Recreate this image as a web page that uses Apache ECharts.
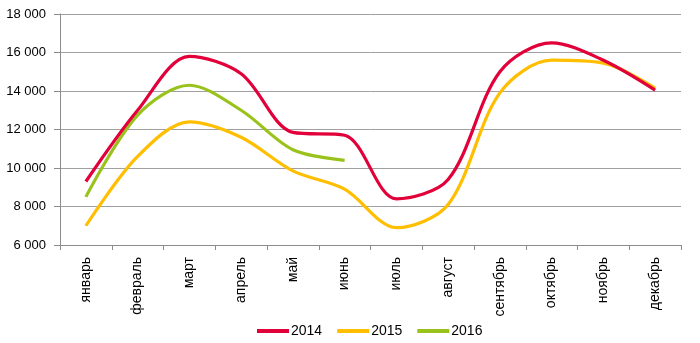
<!DOCTYPE html>
<html>
<head>
<meta charset="utf-8">
<script src="https://cdn.jsdelivr.net/npm/echarts@6/dist/echarts.min.js"></script>
<style>html,body{margin:0;padding:0;background:#fff}#c{width:700px;height:343px}</style>
</head>
<body>
<div id="c"></div>
<script>
var categories = ['январь','февраль','март','апрель','май','июнь','июль','август','сентябрь','октябрь','ноябрь','декабрь'];
var s2014 = [9300, 13000, 15800, 14900, 11850, 11700, 8400, 9400, 15000, 16500, 15600, 14050];
var s2015 = [7000, 10600, 12400, 11600, 9850, 8900, 6900, 8100, 13900, 15600, 15450, 14150];
var s2016 = [8500, 12750, 14300, 13000, 10950, 10400];
var seriesNames = ['2014', '2015', '2016'];
var yTicks = {min: 6000, max: 18000, step: 2000};

function fmt(v) { return String(v).replace(/\B(?=(\d{3})+(?!\d))/g, ' '); }

var colors = ['#E2003B', '#FFBE00', '#99C31C'];
var chart = echarts.init(document.getElementById('c'), null, {renderer: 'canvas'});
var font = '"Liberation Sans", Arial, sans-serif';
function mk(name, data, i) {
  return {
    name: name, type: 'line', data: data, smooth: 0.32, symbol: 'none',
    lineStyle: {width: 3.2, color: colors[i]}, itemStyle: {color: colors[i]}, z: 3 - i
  };
}
chart.setOption({
  animation: false,
  grid: {left: 60, right: 19, top: 14, bottom: 98, containLabel: false},
  legend: {
    left: 252, top: 319, icon: 'rect', itemWidth: 32, itemHeight: 4, itemGap: 15,
    textStyle: {fontFamily: font, fontSize: 14, color: '#000', padding: [0,0,0,-3]},
    data: seriesNames
  },
  xAxis: {
    type: 'category', data: categories, boundaryGap: true,
    axisLine: {lineStyle: {color: '#8c8c8c', width: 1}},
    axisTick: {show: true, length: 5, lineStyle: {color: '#8c8c8c'}},
    axisLabel: {rotate: 90, margin: 12, fontFamily: font, fontSize: 14, color: '#000', interval: 0}
  },
  yAxis: {
    type: 'value', min: yTicks.min, max: yTicks.max, interval: yTicks.step,
    axisLine: {show: true, lineStyle: {color: '#8c8c8c', width: 1}},
    axisTick: {show: true, length: 6, lineStyle: {color: '#8c8c8c'}},
    axisLabel: {margin: 14, fontFamily: font, fontSize: 13, color: '#000', formatter: fmt},
    splitLine: {lineStyle: {color: '#a0a0a0', width: 1}}
  },
  series: [mk(seriesNames[0], s2014, 0), mk(seriesNames[1], s2015, 1), mk(seriesNames[2], s2016, 2)]
});
</script>
</body>
</html>
